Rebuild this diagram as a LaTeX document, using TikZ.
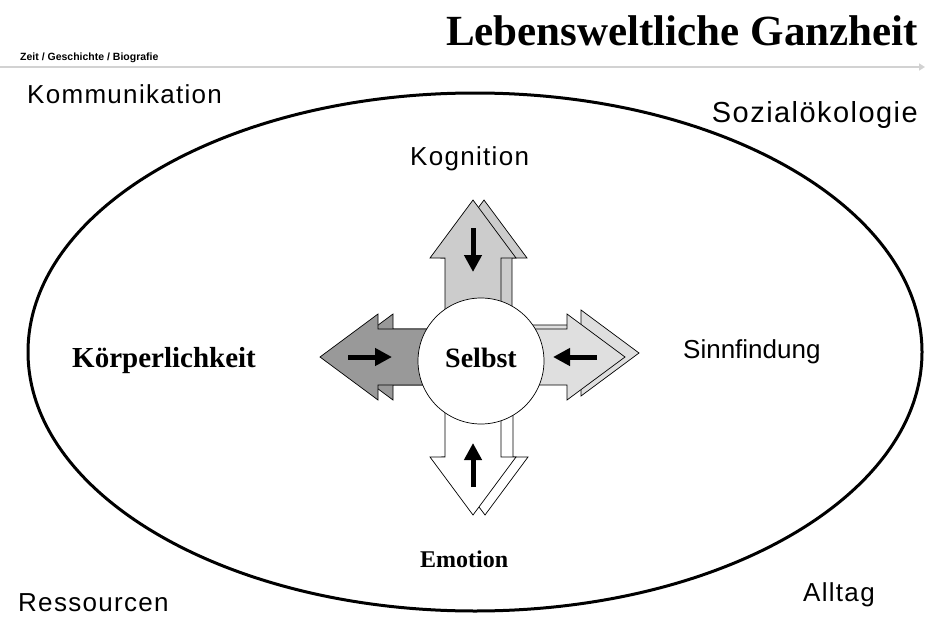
\documentclass[tikz,border=0pt]{standalone}
\usepackage{fontspec}
\setmainfont{Liberation Serif}
\setsansfont{Liberation Sans}
\newfontfamily\labelfont[LetterSpace=5]{Liberation Sans}
\usetikzlibrary{arrows.meta}

\begin{document}
\begin{tikzpicture}[x=1pt, y=-1pt,
  outline/.style={draw=black, line width=0.7pt},
  innerarrow/.style={line width=5pt, -{Triangle[length=17pt, width=17pt]}},
  sanslabel/.style={font=\labelfont\fontsize{26}{30}\selectfont, inner sep=0pt},
  seriflabel/.style={font=\bfseries\fontsize{28}{32}\selectfont, inner sep=0pt}]
\useasboundingbox (0,0) rectangle (926,621);

% Title and time line
\node[anchor=base east, font=\bfseries\fontsize{43}{48}\selectfont, inner sep=0pt] (titel) at (918,45) {Lebensweltliche Ganzheit};
\node[anchor=base west, font=\sffamily\bfseries\fontsize{10.5}{12}\selectfont, inner sep=0pt] (zeit) at (20,60) {Zeit / Geschichte / Biografie};
\coordinate (zeitstart) at (0,67);
\coordinate (zeitende) at (925,67);
\draw[gray!35, line width=2pt, -{Triangle[length=6pt, width=7pt]}] (zeitstart) -- (zeitende);

% Corner labels
\node[sanslabel, anchor=base west] (kommunikation) at (27,103) {Kommunikation};
\node[sanslabel, anchor=base east, font=\labelfont\fontsize{29}{33}\selectfont] (sozial) at (918,122) {Sozialökologie};
\node[sanslabel, anchor=base west] (ressourcen) at (18,611) {Ressourcen};
\node[sanslabel, anchor=base west] (alltag) at (803,601) {Alltag};

% Ellipse
\draw[line width=3pt] (475,352) ellipse [x radius=447pt, y radius=259pt];

% Arrows round the self
\foreach \ang/\len/\col/\dx/\dy in {90/157/gray!40/11/0, 180/153/gray!80/15/0, 0/152/gray!25/14/-4, 270/158/white/12/0} {
    % shadow
    \begin{scope}[shift={({473+\dx},{357+\dy})}, rotate=\ang]
        \filldraw[fill=\col, outline] (40,-28) -- ({\len-58},-28) -- ({\len-58},-43) -- (\len,0)
            -- ({\len-58},43) -- ({\len-58},28) -- (40,28) -- cycle;
    \end{scope}
    % arrow
    \begin{scope}[shift={(473,357)}, rotate=\ang]
        \filldraw[fill=\col, outline] (40,-28) -- ({\len-58},-28) -- ({\len-58},-43) -- (\len,0)
            -- ({\len-58},43) -- ({\len-58},28) -- (40,28) -- cycle;
        \draw[innerarrow] ({\len-28},0) -- ({\len-72},0);
    \end{scope}
}

% Self
\node[circle, draw, fill=white, line width=0.7pt, minimum size=126pt, inner sep=0pt] (selbst) at (481,361) {};
\node[seriflabel, anchor=base] (selbsttext) at (481,367) {Selbst};

% Four sides
\node[sanslabel, anchor=base west] (kognition) at (410,165) {Kognition};
\node[seriflabel, anchor=base west, font=\bfseries\fontsize{29}{33}\selectfont] (koerper) at (72,367) {Körperlichkeit};
\node[sanslabel, anchor=base west, font=\sffamily\fontsize{26}{30}\selectfont] (sinn) at (683,358) {Sinnfindung};
\node[seriflabel, anchor=base west, font=\bfseries\fontsize{24}{28}\selectfont] (emotion) at (420,567) {Emotion};
\end{tikzpicture}
\end{document}
